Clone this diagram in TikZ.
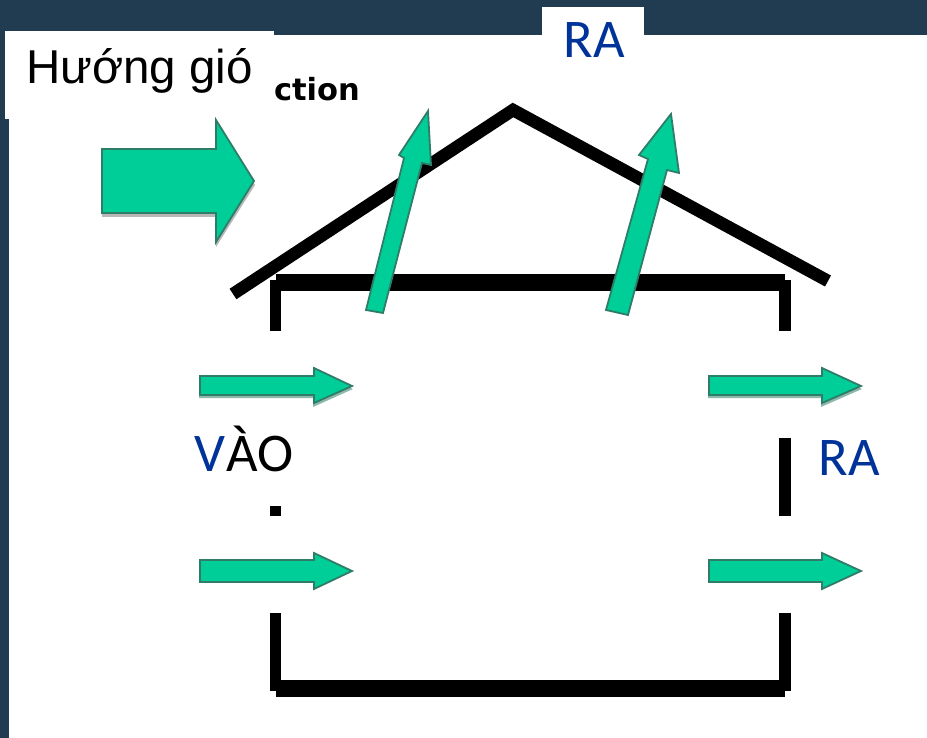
\documentclass[tikz,border=0pt]{standalone}
\usepackage{fontspec}
\setmainfont{Liberation Sans}
\newfontfamily\labelfont{Carlito}
\newfontfamily\clipfont{DejaVu Sans}
\definecolor{navy}{HTML}{213B50}
\definecolor{flow}{HTML}{00CE98}
\definecolor{flowedge}{HTML}{2F7D68}
\definecolor{labelblue}{HTML}{00339A}
\tikzset{
  panel/.style={fill=white,draw=none},
  wall/.style={fill=black,draw=none},
  roofline/.style={draw=black,line width=12.5pt,line join=miter,line cap=butt},
  flowarrow/.style={fill=flow,draw=flowedge,line width=1.8pt,line join=miter},
  softshadow/.style={fill=black!28,draw=none},
  txt/.style={anchor=base west,inner sep=0pt,outer sep=0pt},
  bluelabel/.style={txt,text=labelblue,font=\labelfont\fontsize{54.5}{54.5}\selectfont}
}
\begin{document}
\begin{tikzpicture}[x=1pt,y=-1pt]
\useasboundingbox (0,0) rectangle (927,738);
% background
\fill[navy] (0,0) rectangle (927,738);
\fill[panel] (9,35) rectangle (927,738);
\fill[panel] (5,31) rectangle (274,119);
\fill[panel] (542,7) rectangle (644,36);
% clipped label remnant
\node[txt,font=\clipfont\bfseries\fontsize{30.5}{30.5}\selectfont] (clipped) at (274,101) {ction};
% roof
\draw[roofline] (233,294) -- (513,110) -- (828,281);
% walls
\fill[wall] (276,274) rectangle (785,291);
\fill[wall] (270,280) rectangle (281,331);
\fill[wall] (779,280) rectangle (791,331);
\fill[wall] (270,506) rectangle (281,516);
\fill[wall] (779,438) rectangle (791,516);
\fill[wall] (270,613) rectangle (281,691);
\fill[wall] (779,613) rectangle (791,691);
\fill[wall] (276,680) rectangle (785,697);
% wind arrow
\fill[softshadow] (102,153) -- (216,153) -- (216,123) -- (255,185) -- (216,247) -- (216,217) -- (102,217) -- cycle;
\draw[flowarrow] (102,149) -- (216,149) -- (216,120) -- (254,181) -- (216,242) -- (216,213) -- (102,213) -- cycle;
% roof vents
\draw[flowarrow] (366,310) -- (383,313) -- (422,163) -- (431,165) -- (428,111) -- (399,155) -- (404,158) -- cycle;
\draw[flowarrow] (606,310) -- (628,315) -- (667,170) -- (679,173) -- (671,114) -- (639,155) -- (648,159) -- cycle;
% upper row
\fill[flowedge!55!white] (199,380) -- (313,380) -- (313,371) -- (353,389) -- (313,407) -- (313,398) -- (199,398) -- cycle;
\draw[flowarrow] (200,376) -- (314,376) -- (314,368) -- (352,386) -- (314,403) -- (314,395) -- (200,395) -- cycle;
\fill[flowedge!55!white] (708,380) -- (821,380) -- (821,371) -- (862,389) -- (821,407) -- (821,398) -- (708,398) -- cycle;
\draw[flowarrow] (709,376) -- (822,376) -- (822,368) -- (861,386) -- (822,403) -- (822,395) -- (709,395) -- cycle;
% lower row
\draw[flowarrow] (200,560) -- (314,560) -- (314,553) -- (352,571) -- (314,589) -- (314,582) -- (200,582) -- cycle;
\draw[flowarrow] (709,560) -- (822,560) -- (822,553) -- (861,571) -- (822,589) -- (822,582) -- (709,582) -- cycle;
% labels
\node[txt,font=\fontsize{47.5}{47.5}\selectfont] (wind) at (26,84) {Hướng gió};
\node[bluelabel] (topout) at (563.5,58) {RA};
\node[bluelabel] (sideout) at (818.5,475) {RA};
\node[bluelabel] (sidein) at (194.5,471) {V\kern1pt\textcolor{black}{ÀO}};
\end{tikzpicture}
\end{document}
